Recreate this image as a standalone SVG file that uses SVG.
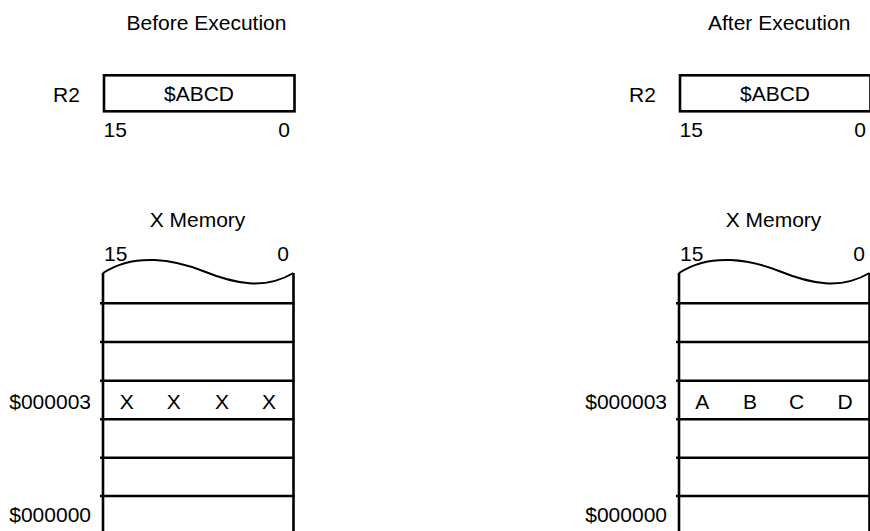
<svg xmlns="http://www.w3.org/2000/svg" width="870" height="531" viewBox="0 0 870 531">
<style>
  text { font-family: "Liberation Sans", Arial, sans-serif; font-size: 21px; fill: #000; }
  .m { text-anchor: middle; }
  .e { text-anchor: end; }
  .box { fill: none; stroke: #000; stroke-width: 2.6; }
  .ln { stroke: #000; stroke-width: 2.6; fill: none; }
  .wave { stroke: #000; stroke-width: 2; fill: none; }
</style>
<defs>
  <g id="memory">
    <path class="wave" d="M103,273 C135,252 175,260 203,271 C235,284 265,290 293.5,273"/>
    <line class="ln" x1="103" y1="273" x2="103" y2="531"/>
    <line class="ln" x1="293.5" y1="273" x2="293.5" y2="531"/>
    <line class="ln" x1="100" y1="303.3" x2="294.5" y2="303.3"/>
    <line class="ln" x1="100" y1="342" x2="294.5" y2="342"/>
    <line class="ln" x1="100" y1="380.7" x2="294.5" y2="380.7"/>
    <line class="ln" x1="100" y1="419.3" x2="294.5" y2="419.3"/>
    <line class="ln" x1="100" y1="457.7" x2="294.5" y2="457.7"/>
    <line class="ln" x1="100" y1="496" x2="294.5" y2="496"/>
  </g>
</defs>

<g id="before">
  <g id="before-title"><text class="m" x="206.5" y="30">Before Execution</text></g>
  <g id="before-r2">
    <text x="53" y="101.5">R2</text>
    <rect class="box" x="104" y="75.3" width="190.5" height="36"/>
    <text class="m" x="199" y="100.7">$ABCD</text>
    <text x="103.5" y="137">15</text>
    <text class="e" x="290" y="137">0</text>
  </g>
  <g id="before-memory">
    <text class="m" x="197.5" y="226.7">X Memory</text>
    <text x="104" y="260.5">15</text>
    <text class="e" x="289" y="260.5">0</text>
    <use href="#memory"/>
    <text class="e" x="91" y="409.3">$000003</text>
    <text class="e" x="91" y="521.7">$000000</text>
    <text class="m" x="126.7" y="409.3">X</text>
    <text class="m" x="173.7" y="409.3">X</text>
    <text class="m" x="222" y="409.3">X</text>
    <text class="m" x="269" y="409.3">X</text>
  </g>
</g>

<g id="after">
  <g id="after-title"><text class="m" x="779.2" y="30">After Execution</text></g>
  <g id="after-r2">
    <text x="629" y="101.5">R2</text>
    <rect class="box" x="680" y="75.3" width="190.5" height="36"/>
    <text class="m" x="775" y="100.7">$ABCD</text>
    <text x="679.5" y="137">15</text>
    <text class="e" x="866" y="137">0</text>
  </g>
  <g id="after-memory">
    <text class="m" x="773.5" y="226.7">X Memory</text>
    <text x="680" y="260.5">15</text>
    <text class="e" x="865" y="260.5">0</text>
    <use href="#memory" transform="translate(576,0)"/>
    <text class="e" x="667" y="409.3">$000003</text>
    <text class="e" x="667" y="521.7">$000000</text>
    <text class="m" x="702.2" y="409.3">A</text>
    <text class="m" x="750" y="409.3">B</text>
    <text class="m" x="796.7" y="409.3">C</text>
    <text class="m" x="845" y="409.3">D</text>
  </g>
</g>
</svg>
